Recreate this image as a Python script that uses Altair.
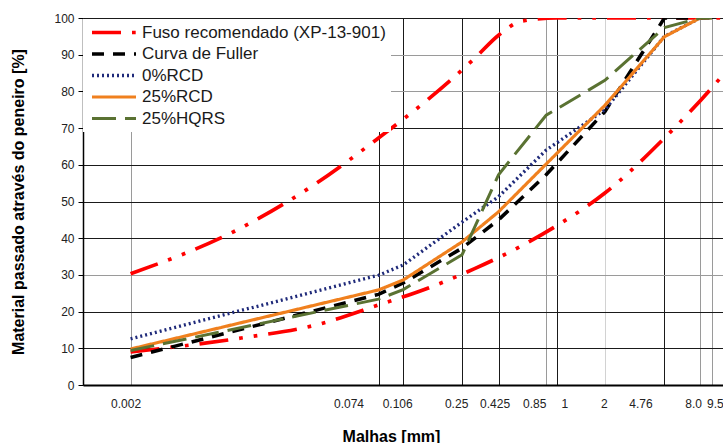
import altair as alt
import pandas as pd

# Series names, in legend order
series_names = [
    "Fuso recomendado (XP-13-901)",
    "Curva de Fuller",
    "0%RCD",
    "25%RCD",
    "25%HQRS",
]

# Sieve openings (mm) of the measured curves
mesh = [0.002, 0.074, 0.106, 0.25, 0.425, 0.85, 2, 4.76, 8.0, 9.5]
fuller = [7.5, 24.7, 27.8, 37.3, 45.0, 57.3, 74.5, 100, 100, 100]
rcd0 = [12.6, 29.9, 32.7, 44.4, 51.3, 64.0, 75.0, 95.0, 100, 100]
rcd25 = [9.8, 25.9, 28.6, 39.0, 47.2, 60.2, 76.2, 94.9, 100, 100]
hqrs25 = [9.4, 23.4, 26.0, 35.5, 57.3, 73.5, 83.0, 97.4, 100, 100]

# Recommended envelope (upper and lower limits)
fuso_upper_mesh = [0.002, 0.01, 0.03, 0.074, 0.15, 0.3, 0.425, 0.6, 1, 2, 4.76, 9.5, 12.5]
fuso_upper = [30.3, 42.8, 55.0, 67.3, 77.6, 89.0, 95.3, 99.2, 100, 100, 100, 100, 100]
fuso_lower_mesh = [0.002, 0.01, 0.03, 0.074, 0.15, 0.3, 0.6, 1, 2, 4.76, 9.5, 12.5]
fuso_lower = [9.0, 12.8, 16.4, 21.8, 26.3, 31.7, 38.0, 43.5, 52.3, 67.3, 81.0, 87.0]

# Axis tick values
x_ticks = [0.002, 0.074, 0.106, 0.25, 0.425, 0.85, 1, 2, 4.76, 8.0, 9.5]
y_ticks = list(range(0, 101, 10))

measured_rows = []
for name, values in zip(series_names[1:], [fuller, rcd0, rcd25, hqrs25]):
    for m, v in zip(mesh, values):
        measured_rows.append({"serie": name, "malha": m, "passado": v})
measured = pd.DataFrame(measured_rows)

fuso_rows = []
for branch, xs, ys in [("sup", fuso_upper_mesh, fuso_upper), ("inf", fuso_lower_mesh, fuso_lower)]:
    for m, v in zip(xs, ys):
        fuso_rows.append({"serie": series_names[0], "ramo": branch, "malha": m, "passado": v})
fuso = pd.DataFrame(fuso_rows)

FONT = "Liberation Sans"

legend = alt.Legend(
    title=None,
    orient="none",
    legendX=0,
    legendY=1,
    padding=5,
    fillColor="white",
    symbolType="stroke",
    symbolSize=1936,
    symbolOffset=2,
    labelOffset=4,
    clipHeight=17,
    rowPadding=3.5,
    labelFontSize=17,
    labelFont=FONT,
    labelColor="#1a1a1a",
    labelLimit=400,
)

color = alt.Color(
    "serie:N",
    scale=alt.Scale(domain=series_names,
                    range=["#ff0000", "#000000", "#1f2a7a", "#f0801e", "#5a7232"]),
    legend=legend,
)
dash = alt.StrokeDash(
    "serie:N",
    scale=alt.Scale(domain=series_names,
                    range=[[29, 11, 3.7, 11, 3.7, 11], [12, 9], [2, 3], [1, 0], [24, 9]]),
    legend=legend,
)
width = alt.StrokeWidth(
    "serie:N",
    scale=alt.Scale(domain=series_names, range=[3.7, 3, 2.5, 1.8, 3]),
    legend=legend,
)

x_axis = alt.Axis(
    values=x_ticks,
    labelExpr="datum.value == 8 ? '8.0' : toString(datum.value)",
    labelFontSize=12,
    labelFont=FONT,
    labelColor="#222222",
    labelPadding=13,
    labelOverlap=False,
    labelFlush=False,
    labelBound=False,
    labelOffset={
        "condition": [
            {"test": "datum.value == 0.002", "value": -5},
            {"test": "datum.value == 0.074", "value": -30},
            {"test": "datum.value == 0.106", "value": -6},
            {"test": "datum.value == 0.25", "value": -6},
            {"test": "datum.value == 0.425", "value": -4},
            {"test": "datum.value == 0.85", "value": -12},
            {"test": "datum.value == 1", "value": 7},
            {"test": "datum.value == 2", "value": -1},
            {"test": "datum.value == 4.76", "value": -24},
            {"test": "datum.value == 8", "value": -7},
        ],
        "value": 3,
    },
    ticks=False,
    domainColor="#000000",
    domainWidth=2,
    grid=True,
    gridWidth=1,
    gridColor={
        "condition": [
            {"test": "datum.value == 2", "value": "#d2d2d2"},
            {"test": "indexof([0.002, 0.85, 8, 9.5], datum.value) >= 0", "value": "#9a9a9a"},
        ],
        "value": "#1a1a1a",
    },
    title="Malhas [mm]",
    titleFont=FONT,
    titleFontSize=16,
    titleFontWeight="bold",
    titleColor="#000000",
    titleX=308,
    titleY=51,
    titleAlign="center",
    titleBaseline="middle",
)

y_axis = alt.Axis(
    values=y_ticks,
    labelFontSize=12,
    labelFont=FONT,
    labelColor="#222222",
    labelPadding=4,
    tickSize=5,
    tickColor="#000000",
    domainColor="#000000",
    domainWidth=1.5,
    grid=True,
    gridWidth=1,
    gridColor={
        "condition": {"test": "indexof([30, 80, 90], datum.value) >= 0", "value": "#9a9a9a"},
        "value": "#1a1a1a",
    },
    title="Material passado através do peneiro [%]",
    titleFont=FONT,
    titleFontSize=16,
    titleFontWeight="bold",
    titleColor="#000000",
    titleX=-65,
    titleY=183.5,
    titleAngle=-90,
    titleAlign="center",
    titleBaseline="middle",
)

x = alt.X("malha:Q", scale=alt.Scale(type="log", domain=[0.001, 11.17]), axis=x_axis)
y = alt.Y("passado:Q", scale=alt.Scale(domain=[0, 100]), axis=y_axis)

envelope = alt.Chart(fuso).mark_line(interpolate="monotone", clip=True, strokeCap="butt").encode(
    x=x, y=y, color=color, strokeDash=dash, strokeWidth=width, detail="ramo:N"
)

curves = alt.Chart(measured).mark_line(clip=True, strokeCap="butt").encode(
    x=x, y=y, color=color, strokeDash=dash, strokeWidth=width
)

chart = (
    alt.layer(envelope, curves)
    .properties(
        width=640,
        height=367,
        padding={"left": 83, "top": 18, "right": 0, "bottom": 58},
        autosize=alt.AutoSizeParams(type="none"),
        background="white",
    )
    .configure(font=FONT)
    .configure_view(stroke=None)
)

chart.save("out.html", embed_options={"renderer": "svg", "actions": False})
